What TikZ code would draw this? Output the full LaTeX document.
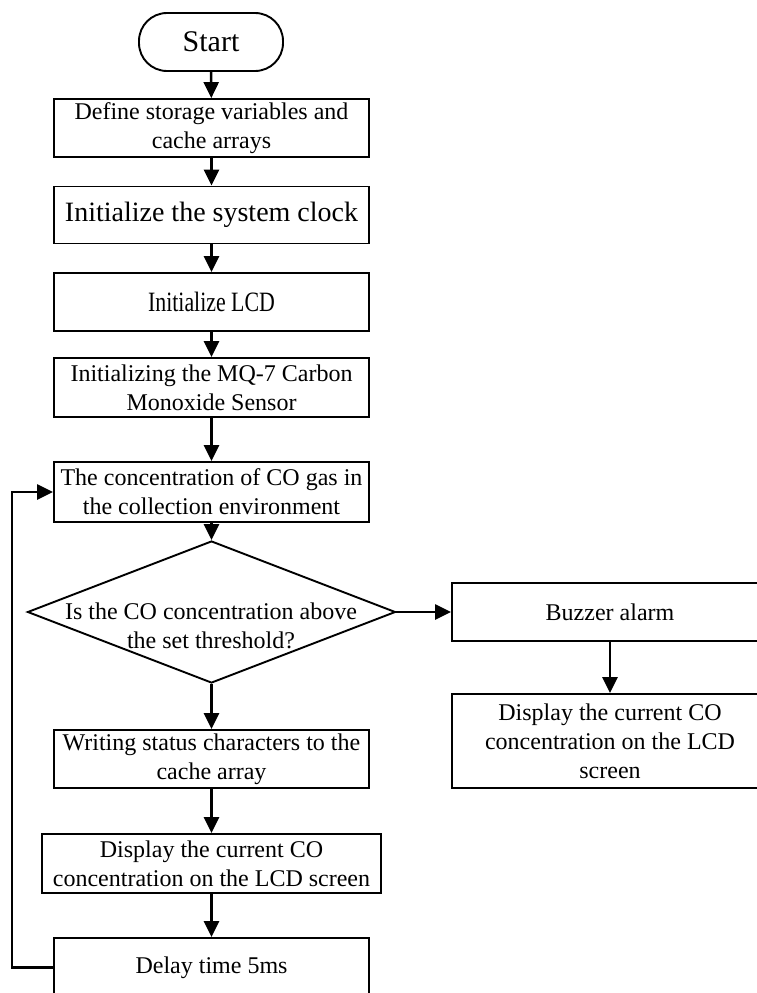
\documentclass[tikz,border=0pt]{standalone}
\usepackage{fontspec}
\setmainfont{Liberation Serif}
\usetikzlibrary{shapes.geometric,arrows.meta}
\begin{document}
\begin{tikzpicture}[x=1pt,y=-1pt,
    box/.style={draw,line width=1.9pt,minimum width=315pt,minimum height=58pt,inner sep=0pt,align=center,font=\fontsize{24}{29}\selectfont},
    decision/.style={draw,diamond,line width=1.9pt,minimum width=368pt,minimum height=142pt,inner sep=0pt},
    flow/.style={line width=2.5pt,-{Triangle[length=16pt,width=15pt]}}]
  \useasboundingbox (0,0) rectangle (757,993);
  \clip (0,0) rectangle (757,993);

  \node[draw,line width=1.9pt,rounded corners=28pt,minimum width=144pt,minimum height=58pt,inner sep=0pt,font=\fontsize{30}{36}\selectfont] (start) at (211,42) {Start};
  \node[box] (define) at (211.5,128) {Define storage variables and\\cache arrays};
  \node[box,minimum height=57pt,font=\fontsize{28}{33}\selectfont] (clock) at (211.5,215) {Initialize the system clock};
  \node[box,font=\fontsize{28}{33}\selectfont] (lcd) at (211.5,302) {\scalebox{0.78}[1]{Initialize LCD}};
  \node[box,minimum height=59pt] (sensor) at (211.5,387.5) {Initializing the MQ-7 Carbon\\Monoxide Sensor};
  \node[box,minimum height=60pt] (collect) at (211.5,492) {The concentration of CO gas in\\the collection environment};

  \node[decision] (check) at (211.5,612) {};
  \node[align=center,inner sep=0pt,font=\fontsize{24}{29}\selectfont] (checktext) at (211,626) {Is the CO concentration above\\the set threshold?};

  \node[box] (write) at (211.5,759) {Writing status characters to the\\cache array};
  \node[box,minimum width=339pt,minimum height=59pt] (show) at (211.5,863.5) {Display the current CO\\concentration on the LCD screen};
  \node[box,minimum height=59pt] (delay) at (211.5,967.5) {Delay time 5ms};

  \node[box,minimum width=316pt] (alarm) at (610,612) {Buzzer alarm};
  \node[box,minimum width=316pt,minimum height=94pt] (alarmshow) at (610,741) {Display the current CO\\concentration on the LCD\\screen};

  \coordinate (loopx) at (12,0);

  \draw[flow] (start) -- (define);
  \draw[flow] (define) -- (clock);
  \draw[flow] (clock) -- (lcd);
  \draw[flow] (lcd) -- (sensor);
  \draw[flow] (sensor) -- (collect);
  \draw[flow] (collect) -- (check);
  \draw[flow] (check) -- (write);
  \draw[flow] (write) -- (show);
  \draw[flow] (show) -- (delay);
  \draw[flow] (check.east) -- (alarm);
  \draw[flow] (alarm) -- (alarmshow);
  \draw[flow] (delay.west) -- (delay.west -| loopx) |- (collect.west);
\end{tikzpicture}
\end{document}
